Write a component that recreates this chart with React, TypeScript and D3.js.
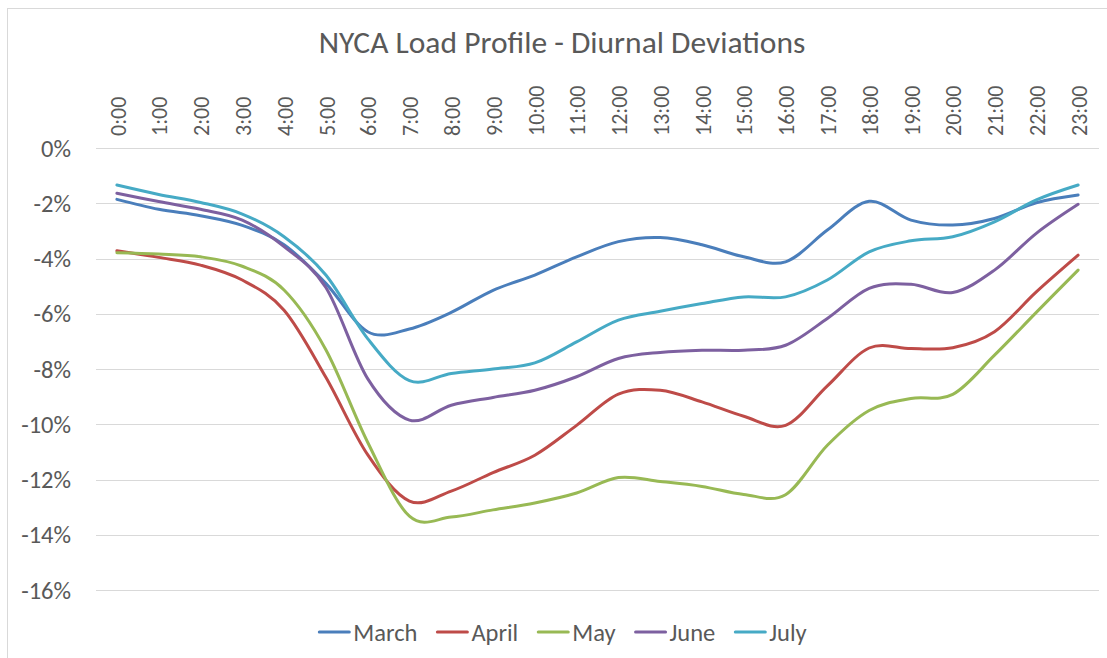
import React, { useEffect, useRef } from "react";
import * as d3 from "d3";

const hours = [
  "0:00", "1:00", "2:00", "3:00", "4:00", "5:00", "6:00", "7:00", "8:00", "9:00", "10:00", "11:00",
  "12:00", "13:00", "14:00", "15:00", "16:00", "17:00", "18:00", "19:00", "20:00", "21:00", "22:00", "23:00",
];

const march = [-1.86, -2.22, -2.45, -2.8, -3.5, -4.9, -6.65, -6.55, -5.95, -5.15, -4.6, -3.94, -3.39, -3.24, -3.5, -3.94, -4.12, -2.97, -1.93, -2.61, -2.79, -2.55, -1.98, -1.7];
const april = [-3.72, -3.96, -4.24, -4.78, -5.87, -8.3, -11.1, -12.78, -12.42, -11.75, -11.12, -10.04, -8.91, -8.77, -9.19, -9.71, -10.04, -8.61, -7.24, -7.26, -7.23, -6.65, -5.21, -3.88];
const may = [-3.79, -3.84, -3.94, -4.28, -5.14, -7.3, -10.65, -13.33, -13.36, -13.1, -12.85, -12.49, -11.93, -12.07, -12.25, -12.54, -12.55, -10.76, -9.5, -9.07, -8.92, -7.5, -5.95, -4.42];
const june = [-1.64, -1.94, -2.22, -2.61, -3.57, -5.05, -8.35, -9.85, -9.31, -9.03, -8.77, -8.28, -7.62, -7.4, -7.32, -7.32, -7.14, -6.17, -5.08, -4.93, -5.23, -4.42, -3.09, -2.04];
const july = [-1.34, -1.68, -1.97, -2.39, -3.21, -4.6, -6.9, -8.42, -8.16, -8.0, -7.78, -7.02, -6.23, -5.91, -5.63, -5.39, -5.39, -4.78, -3.76, -3.36, -3.21, -2.67, -1.88, -1.34];

const seriesNames = ["March", "April", "May", "June", "July"];
const seriesValues = [march, april, may, june, july];
const seriesColors = ["#4A7EBB", "#BE4B48", "#98B954", "#7D60A0", "#46AAC5"];

const yTicks = [0, -2, -4, -6, -8, -10, -12, -14, -16];
const title = "NYCA Load Profile - Diurnal Deviations";

const W = 1107;
const H = 658;
const FONT = "Calibri, Carlito, Lato, 'Liberation Sans', sans-serif";
const TEXT = "#595959";

export default function App() {
  const ref = useRef<SVGSVGElement | null>(null);

  useEffect(() => {
    const svg = d3.select(ref.current);
    svg.selectAll("*").remove();

    const x = d3.scalePoint<string>().domain(hours).range([96, 1099]).padding(0.5);
    const y = d3.scaleLinear().domain([-16, 0]).range([590, 148]);

    svg.append("rect").attr("x", 0).attr("y", 0).attr("width", W).attr("height", H).attr("fill", "#fff");
    svg.append("rect")
      .attr("x", 7.5).attr("y", 8.5).attr("width", W).attr("height", H)
      .attr("fill", "none").attr("stroke", "#D9D9D9").attr("stroke-width", 1);

    // title
    svg.append("text")
      .attr("x", 562).attr("y", 53)
      .attr("text-anchor", "middle")
      .attr("font-family", FONT).attr("font-size", 31.5)
      .attr("fill", TEXT)
      .text(title);

    // gridlines
    svg.append("g").selectAll("line").data(yTicks).join("line")
      .attr("x1", 96).attr("x2", 1099)
      .attr("y1", (d) => Math.round(y(d)) + 0.5).attr("y2", (d) => Math.round(y(d)) + 0.5)
      .attr("stroke", "#D9D9D9").attr("stroke-width", 1);

    // y labels
    svg.append("g").selectAll("text").data(yTicks).join("text")
      .attr("x", 71).attr("y", (d) => y(d))
      .attr("dy", "0.35em")
      .attr("text-anchor", "end")
      .attr("font-family", FONT).attr("font-size", 24.5)
      .attr("fill", TEXT)
      .text((d) => `${d}%`);

    // x labels (rotated)
    svg.append("g").selectAll("text").data(hours).join("text")
      .attr("transform", (d) => `translate(${x(d)! + 1},136) rotate(-90)`)
      .attr("dy", "0.35em")
      .attr("text-anchor", "start")
      .attr("font-family", FONT).attr("font-size", 22)
      .attr("fill", TEXT)
      .text((d) => d);

    // lines
    const line = d3.line<number>()
      .x((_, i) => x(hours[i])!)
      .y((d) => y(d))
      .curve(d3.curveCardinal.tension(0));

    const g = svg.append("g");
    seriesValues.forEach((vals, i) => {
      g.append("path")
        .attr("d", line(vals) || "")
        .attr("fill", "none")
        .attr("stroke", seriesColors[i])
        .attr("stroke-width", 3)
        .attr("stroke-linejoin", "round")
        .attr("stroke-linecap", "round");
    });

    // legend
    const lg = svg.append("g");
    let cx = 0;
    seriesNames.forEach((name, i) => {
      const item = lg.append("g").attr("transform", `translate(${cx},0)`);
      item.append("line")
        .attr("x1", 0).attr("x2", 30).attr("y1", 0).attr("y2", 0)
        .attr("stroke", seriesColors[i]).attr("stroke-width", 3).attr("stroke-linecap", "round");
      const t = item.append("text")
        .attr("x", 34).attr("y", 0).attr("dy", "0.35em")
        .attr("font-family", FONT).attr("font-size", 24.5)
        .attr("fill", TEXT)
        .text(name);
      const w = (t.node() as SVGTextElement).getComputedTextLength();
      cx += 34 + w + 20;
    });
    const total = cx - 20;
    lg.attr("transform", `translate(${563 - total / 2},632)`);
  }, []);

  return (
    <svg
      ref={ref}
      width={W}
      height={H}
      style={{ position: "absolute", left: 0, top: 0, display: "block" }}
    />
  );
}
